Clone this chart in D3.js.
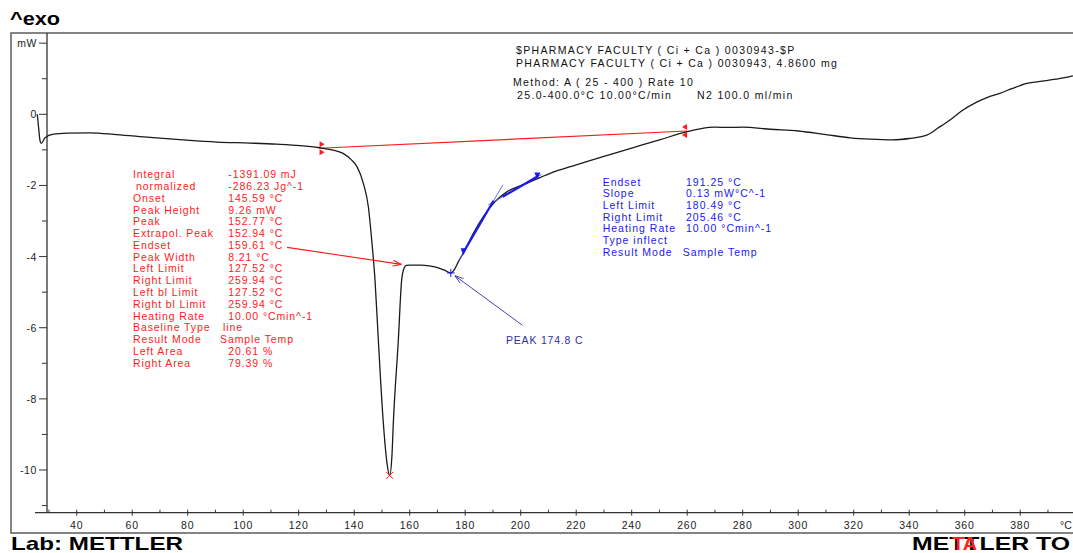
<!DOCTYPE html>
<html>
<head>
<meta charset="utf-8">
<script src="https://cdn.jsdelivr.net/npm/d3@7"></script>
<style>
  html, body { margin: 0; padding: 0; background: #fff; }
  svg { display: block; font-family: "Liberation Sans", Arial, sans-serif; }
</style>
</head>
<body>
<svg id="chart" width="1073" height="553"></svg>
<script>
// DSC scan: sample temperature (°C) and heat flow (mW)
const temperature = [25.8, 26.3, 26.8, 27.2, 28.6, 31.6, 36.4, 44.8, 54.4, 66.4, 78.3, 90.5, 102.5, 112, 120.5,
  127.5, 132, 136, 139, 141, 143.3, 145.1, 146.3, 147.5, 148.7, 150.5, 151.8, 152.77, 153.6, 154.1, 155.9, 157.1,
  158.0, 158.8, 160.1, 164, 167, 170, 173, 174.8, 176.2, 177.5, 179.3, 182.9, 186.5, 190.7, 195, 202.2, 210.6,
  220, 230, 240, 250, 259.9, 265, 270, 275, 280, 290, 300, 310, 318.8, 326, 334, 340, 346.5, 350.5, 354.7, 359,
  364.5, 368, 372.7, 377, 382.4, 388, 394, 399];
const heatFlow = [0.0, -0.4, -0.75, -0.82, -0.66, -0.56, -0.53, -0.52, -0.57, -0.65, -0.72, -0.78, -0.81, -0.84, -0.88,
  -0.94, -1.0, -1.1, -1.28, -1.47, -1.94, -2.6, -3.53, -4.66, -6.35, -8.68, -9.8, -10.15, -9.6, -8.68, -6.35, -4.66,
  -4.32, -4.25, -4.24, -4.24, -4.26, -4.31, -4.40, -4.46, -4.35, -4.15, -3.9, -3.35, -2.88, -2.46, -2.18, -1.94, -1.66,
  -1.42, -1.18, -0.95, -0.72, -0.49, -0.40, -0.36, -0.37, -0.36, -0.42, -0.47, -0.57, -0.66, -0.70, -0.72, -0.68, -0.58, -0.38, -0.16, 0.10,
  0.35, 0.47, 0.59, 0.72, 0.87, 0.93, 1.0, 1.08];

// Axis ticks
const xMajorTicks = [40, 60, 80, 100, 120, 140, 160, 180, 200, 220, 240, 260, 280, 300, 320, 340, 360, 380];
const xMinorTicks = [30, 50, 70, 90, 110, 130, 150, 170, 190, 210, 230, 250, 270, 290, 310, 330, 350, 370, 390];
const yMajorTicks = [2, 0, -2, -4, -6, -8, -10];
const yMinorTicks = [1, -1, -3, -5, -7, -9, -11];
const yTickLabels = ["mW", "0", "-2", "-4", "-6", "-8", "-10"];

// Peak integration (red)
const baselineT = [127.52, 259.94];
const baselineMW = [-0.955, -0.47];
const peakT = 152.77;
const peakMW = -10.15;
const endsetArrowT = [115.8, 157.0];
const endsetArrowMW = [-3.74, -4.22];
const peakLabels = ["Integral", " normalized", "Onset", "Peak Height", "Peak", "Extrapol. Peak", "Endset", "Peak Width",
  "Left Limit", "Right Limit", "Left bl Limit", "Right bl Limit", "Heating Rate", "Baseline Type", "Result Mode", "Left Area", "Right Area"];
const peakValues = ["-1391.09 mJ", "-286.23 Jg^-1", "145.59 °C", "9.26 mW", "152.77 °C", "152.94 °C", "159.61 °C", "8.21 °C",
  "127.52 °C", "259.94 °C", "127.52 °C", "259.94 °C", "10.00 °Cmin^-1", "line", "Sample Temp", "20.61 %", "79.39 %"];

// Step evaluation (blue)
const lowerTangentT = [177.6, 193.6];
const lowerTangentMW = [-4.12, -1.98];
const upperTangentT = [188.3, 207.5];
const upperTangentMW = [-2.55, -1.69];
const lowerThickT = [179.4, 190.2];
const lowerThickMW = [-3.88, -2.43];
const upperThickT = [193.5, 206.0];
const upperThickMW = [-2.32, -1.75];
const stepLabels = ["Endset", "Slope", "Left Limit", "Right Limit", "Heating Rate", "Type inflect", "Result Mode"];
const stepValues = ["191.25 °C", "0.13 mW°C^-1", "180.49 °C", "205.46 °C", "10.00 °Cmin^-1", "", "Sample Temp"];
const minimumT = 174.8;
const minimumMW = -4.46;
const minimumArrowT = [200.6, 176.3];
const minimumArrowMW = [-5.93, -4.54];

const headerLines = ["$PHARMACY FACULTY ( Ci + Ca ) 0030943-$P", "PHARMACY FACULTY ( Ci + Ca ) 0030943, 4.8600 mg",
  "Method: A ( 25 - 400 ) Rate 10", "25.0-400.0°C 10.00°C/min", "N2 100.0 ml/min"];

const svg = d3.select("#chart");
const x = d3.scaleLinear().domain([40, 380]).range([76.7, 1020.2]);
const y = d3.scaleLinear().domain([0, -10]).range([114.3, 470]);

const RED = "#ff1a1a", BLUE = "#1a1aee", NAVY = "#30309a";

// Frame
svg.append("rect").attr("x", 11).attr("y", 33).attr("width", 1075).attr("height", 500)
  .attr("fill", "none").attr("stroke", "#666").attr("stroke-width", 1.6);

// Axis lines
const xAxisY = y(-11.2);
const yAxisX = x(29.3);
svg.append("line").attr("x1", 35).attr("x2", 1073).attr("y1", xAxisY).attr("y2", xAxisY)
  .attr("stroke", "#333").attr("stroke-width", 1.3);
svg.append("line").attr("x1", yAxisX).attr("x2", yAxisX).attr("y1", 33).attr("y2", xAxisY)
  .attr("stroke", "#333").attr("stroke-width", 1.3);

// X ticks
svg.selectAll(".xmaj").data(xMajorTicks).join("line")
  .attr("x1", d => x(d)).attr("x2", d => x(d)).attr("y1", xAxisY - 3).attr("y2", xAxisY + 3)
  .attr("stroke", "#333");
svg.selectAll(".xmin").data(xMinorTicks).join("line")
  .attr("x1", d => x(d)).attr("x2", d => x(d)).attr("y1", xAxisY - 3).attr("y2", xAxisY)
  .attr("stroke", "#333");
svg.selectAll(".xlab").data(xMajorTicks).join("text")
  .attr("x", d => x(d)).attr("y", 529).attr("text-anchor", "middle")
  .attr("font-size", "10.5px").attr("letter-spacing", "0.8px").attr("fill", "#222").text(d => d);
svg.append("text").attr("x", 1066).attr("y", 529).attr("text-anchor", "middle")
  .attr("font-size", "10.5px").attr("fill", "#222").text("°C");

// Y ticks
svg.selectAll(".ymaj").data(yMajorTicks).join("line")
  .attr("x1", yAxisX - 8).attr("x2", yAxisX).attr("y1", d => y(d)).attr("y2", d => y(d)).attr("stroke", "#333");
svg.selectAll(".ymin").data(yMinorTicks).join("line")
  .attr("x1", yAxisX - 5).attr("x2", yAxisX).attr("y1", d => y(d)).attr("y2", d => y(d)).attr("stroke", "#333");
svg.selectAll(".ylab").data(yMajorTicks).join("text")
  .attr("x", yAxisX - 10).attr("y", d => y(d) + 4).attr("text-anchor", "end")
  .attr("font-size", "10.5px").attr("letter-spacing", "0.6px").attr("fill", "#222")
  .text((d, i) => yTickLabels[i]);

// Titles
svg.append("text").attr("x", 10).attr("y", 25).attr("font-size", "19px").attr("font-weight", "bold")
  .attr("textLength", 50).attr("lengthAdjust", "spacingAndGlyphs").text("^exo");
svg.append("text").attr("x", 11).attr("y", 550).attr("font-size", "19px").attr("font-weight", "bold")
  .attr("textLength", 172).attr("lengthAdjust", "spacingAndGlyphs").text("Lab: METTLER");
svg.append("text").attr("x", 912).attr("y", 550).attr("font-size", "19px").attr("font-weight", "bold")
  .attr("textLength", 158).attr("lengthAdjust", "spacingAndGlyphs").text("METTLER TO");
svg.append("text").attr("x", 952).attr("y", 550).attr("font-size", "19px").attr("font-weight", "bold")
  .attr("fill", "#ff2020").attr("textLength", 25).attr("lengthAdjust", "spacingAndGlyphs").text("TA");

// Header
const hdr = svg.append("g").attr("font-size", "10.5px").attr("letter-spacing", "1.35px").attr("fill", "#111");
hdr.append("text").attr("x", 516).attr("y", 54).text(headerLines[0]);
hdr.append("text").attr("x", 516).attr("y", 67).text(headerLines[1]);
hdr.append("text").attr("x", 513).attr("y", 85.5).text(headerLines[2]);
hdr.append("text").attr("x", 517).attr("y", 99).text(headerLines[3]);
hdr.append("text").attr("x", 697).attr("y", 99).text(headerLines[4]);

// Red integration baseline
svg.append("line")
  .attr("x1", x(baselineT[0])).attr("y1", y(baselineMW[0]))
  .attr("x2", x(baselineT[1])).attr("y2", y(baselineMW[1]))
  .attr("stroke", RED).attr("stroke-width", 1.1);
function limitMarks(t, v, dir) {
  const cx = x(t), cy = y(v);
  [-4, 4].forEach(off => {
    const yy = cy + off;
    svg.append("path")
      .attr("d", `M${cx},${yy - 3}L${cx + dir * 5},${yy}L${cx},${yy + 3}Z`)
      .attr("fill", RED);
  });
}
limitMarks(baselineT[0], baselineMW[0], 1);
limitMarks(baselineT[1], baselineMW[1], -1);

// DSC curve
const pts = temperature.map((t, i) => [t, heatFlow[i]]);
svg.append("path").datum(pts)
  .attr("d", d3.line().x(d => x(d[0])).y(d => y(d[1])).curve(d3.curveMonotoneX))
  .attr("fill", "none").attr("stroke", "#1a1a1a").attr("stroke-width", 1.3);

// Peak marker
{
  const px = x(peakT), py = y(peakMW);
  svg.append("path").attr("d", `M${px - 3.5},${py - 3.5}L${px + 3.5},${py + 3.5}M${px - 3.5},${py + 3.5}L${px + 3.5},${py - 3.5}`)
    .attr("stroke", RED).attr("stroke-width", 1);
}

// Arrow helper
function arrow(t0, v0, t1, v1, color, w) {
  const x0 = x(t0), y0 = y(v0), x1 = x(t1), y1 = y(v1);
  svg.append("line").attr("x1", x0).attr("y1", y0).attr("x2", x1).attr("y2", y1)
    .attr("stroke", color).attr("stroke-width", w);
  const a = Math.atan2(y1 - y0, x1 - x0), L = 9, s = 0.32;
  svg.append("path")
    .attr("d", `M${x1},${y1}L${x1 - L * Math.cos(a - s)},${y1 - L * Math.sin(a - s)}M${x1},${y1}L${x1 - L * Math.cos(a + s)},${y1 - L * Math.sin(a + s)}`)
    .attr("stroke", color).attr("stroke-width", w).attr("fill", "none");
}
arrow(endsetArrowT[0], endsetArrowMW[0], endsetArrowT[1], endsetArrowMW[1], RED, 1.1);

// Red results table
const red = svg.append("g").attr("font-size", "10.5px").attr("letter-spacing", "0.9px").attr("fill", RED);
peakLabels.forEach((lab, i) => {
  const yy = 178.3 + i * 11.77;
  red.append("text").attr("x", i === 1 ? 136 : 133).attr("y", yy).text(lab.trim());
  const vx = lab === "Baseline Type" ? 223 : lab === "Result Mode" ? 220 : 228.3;
  red.append("text").attr("x", vx).attr("y", yy).text(peakValues[i]);
});

// Blue tangent construction
function seg(ts, vs, color, w) {
  svg.append("line").attr("x1", x(ts[0])).attr("y1", y(vs[0])).attr("x2", x(ts[1])).attr("y2", y(vs[1]))
    .attr("stroke", color).attr("stroke-width", w);
}
seg(lowerTangentT, lowerTangentMW, "#5a5aff", 0.9);
seg(upperTangentT, upperTangentMW, "#5a5aff", 0.9);
seg(lowerThickT, lowerThickMW, BLUE, 2.2);
seg(upperThickT, upperThickMW, BLUE, 2.2);
function downTri(t, v) {
  const cx = x(t), cy = y(v);
  svg.append("path").attr("d", `M${cx - 3},${cy - 4}L${cx + 3},${cy - 4}L${cx},${cy + 3}Z`).attr("fill", BLUE);
}
downTri(lowerThickT[0], lowerThickMW[0]);
downTri(upperThickT[1], upperThickMW[1]);

// Minimum marker and label
{
  const mx = x(minimumT), my = y(minimumMW);
  svg.append("path").attr("d", `M${mx - 4},${my}L${mx + 4},${my}M${mx},${my - 4}L${mx},${my + 4}`)
    .attr("stroke", BLUE).attr("stroke-width", 1);
}
arrow(minimumArrowT[0], minimumArrowMW[0], minimumArrowT[1], minimumArrowMW[1], NAVY, 0.9);
svg.append("text").attr("x", 506).attr("y", 344).attr("font-size", "10.5px").attr("letter-spacing", "0.8px")
  .attr("fill", NAVY).text("PEAK " + minimumT + " C");

// Blue results table
const blue = svg.append("g").attr("font-size", "10.5px").attr("letter-spacing", "1px").attr("fill", BLUE);
stepLabels.forEach((lab, i) => {
  const yy = 185.7 + i * 11.67;
  blue.append("text").attr("x", 602.7).attr("y", yy).text(lab);
  if (stepValues[i]) blue.append("text").attr("x", lab === "Result Mode" ? 682.7 : 686).attr("y", yy).text(stepValues[i]);
});
</script>
</body>
</html>
